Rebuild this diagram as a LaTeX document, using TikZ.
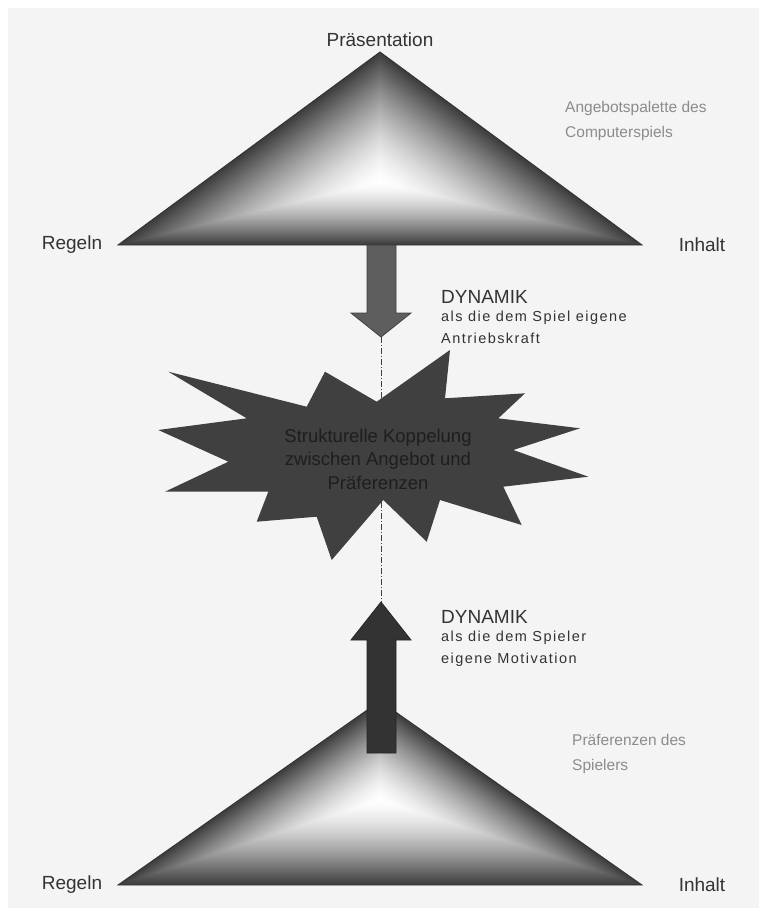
\documentclass[tikz,border=0pt]{standalone}
\usepackage{fontspec}
\setmainfont{Liberation Sans}
\usetikzlibrary{calc}
\definecolor{bgc}{HTML}{F4F4F4}
\definecolor{labc}{HTML}{333333}
\definecolor{greyc}{HTML}{8C8C8C}
\definecolor{starc}{HTML}{404040}
\definecolor{startxt}{HTML}{1E1E1E}
\definecolor{arrowA}{HTML}{5E5E5E}
\definecolor{arrowB}{HTML}{333333}
\tikzset{
  corner/.style={font=\fontsize{19}{22}\selectfont, text=labc, inner sep=0pt},
  sidelabel/.style={font=\fontsize{15.5}{25}\selectfont, text=greyc, align=left, anchor=north west, inner sep=0pt},
  dynbig/.style={font=\fontsize{19}{22}\selectfont, text=labc, anchor=west, inner sep=0pt},
  dynsmall/.style={font=\fontsize{14.5}{16}\selectfont\addfontfeature{LetterSpace=10}, text=labc, anchor=west, inner sep=0pt},
  startext/.style={font=\fontsize{18.5}{23.5}\selectfont, text=startxt, align=center, inner sep=0pt},
  tri/.style={draw=black!80, line width=0.9pt},
}
\newcommand{\shadedtri}[4]{%
  \foreach \i in {0,...,69}{%
    \pgfmathsetmacro\s{1-\i/70}%
    \pgfmathsetmacro\p{76*(\s^1.5)}%
    \fill[black!\p] ($(#4)!\s!(#1)$) -- ($(#4)!\s!(#2)$) -- ($(#4)!\s!(#3)$) -- cycle;
  }%
  \draw[tri] (#1) -- (#2) -- (#3) -- cycle;
}
\begin{document}
\begin{tikzpicture}[x=1pt,y=-1pt]
\useasboundingbox (0,0) rectangle (759,910);
\fill[white] (0,0) rectangle (759,910);
\fill[bgc] (8,8) rectangle (759,908);

% top triangle
\coordinate (tL) at (118,245);
\coordinate (tR) at (642,245);
\coordinate (tT) at (380,52);
\coordinate (tC) at (380,182);
\shadedtri{tL}{tR}{tT}{tC}

% bottom triangle
\coordinate (bL) at (118,885);
\coordinate (bR) at (642,885);
\coordinate (bT) at (380,701);
\coordinate (bC) at (380,800);
\shadedtri{bL}{bR}{bT}{bC}

% star
\fill[starc] (168.3,371.7) -- (306.7,406.7) -- (325,371.7) -- (376.7,401.7) -- (450,350)
  -- (445,398.3) -- (525,393.3) -- (498.3,418.3) -- (580,428.3) -- (513.3,450)
  -- (588.3,476.7) -- (503.3,486.7) -- (521.7,525) -- (440,500) -- (426.7,541.7)
  -- (383.3,500) -- (331.7,560) -- (316.7,516.7) -- (256.7,521.7) -- (268.3,491.7)
  -- (165,491.7) -- (228.3,461.7) -- (158.3,430) -- (246.7,418.3) -- cycle;

% top arrow (down)
\coordinate (aTip) at (381,337);
\filldraw[fill=arrowA, draw=black!75, line width=0.8pt]
  (367,245) -- (396,245) -- (396,313) -- (411,313) -- (aTip) -- (351,313) -- (367,313) -- cycle;

% bottom arrow (up)
\coordinate (bTip) at (381,602);
\filldraw[fill=arrowB, draw=black!85, line width=0.8pt]
  (367,753) -- (396,753) -- (396,640) -- (411,640) -- (bTip) -- (351,640) -- (367,640) -- cycle;

% dashed axis
\draw[black!75, line width=0.7pt, dash pattern=on 6pt off 2pt on 1pt off 2pt] (aTip) -- (bTip);

% star text
\node[startext] (koppel) at (378,459) {Strukturelle Koppelung\\zwischen Angebot und\\Präferenzen};

% corner labels
\node[corner] (praes) at (380,40) {Präsentation};
\node[corner] (regelnT) at (72,245) {Regeln};
\node[corner] (inhaltT) at (702,245) {Inhalt};
\node[corner] (regelnB) at (72,885) {Regeln};
\node[corner] (inhaltB) at (702,885) {Inhalt};

% side labels
\node[sidelabel] (angebot) at (565,101) {Angebotspalette des\\Computerspiels};
\node[sidelabel] (praef) at (572,734) {Präferenzen des\\Spielers};

% dynamik labels
\node[dynbig] (dyn1) at (441,297) {DYNAMIK};
\node[dynsmall] (dyn1a) at (441,318) {als die dem Spiel eigene};
\node[dynsmall] (dyn1b) at (441,338) {Antriebskraft};
\node[dynbig] (dyn2) at (441,617) {DYNAMIK};
\node[dynsmall] (dyn2a) at (441,638) {als die dem Spieler};
\node[dynsmall] (dyn2b) at (441,660) {eigene Motivation};
\end{tikzpicture}
\end{document}
